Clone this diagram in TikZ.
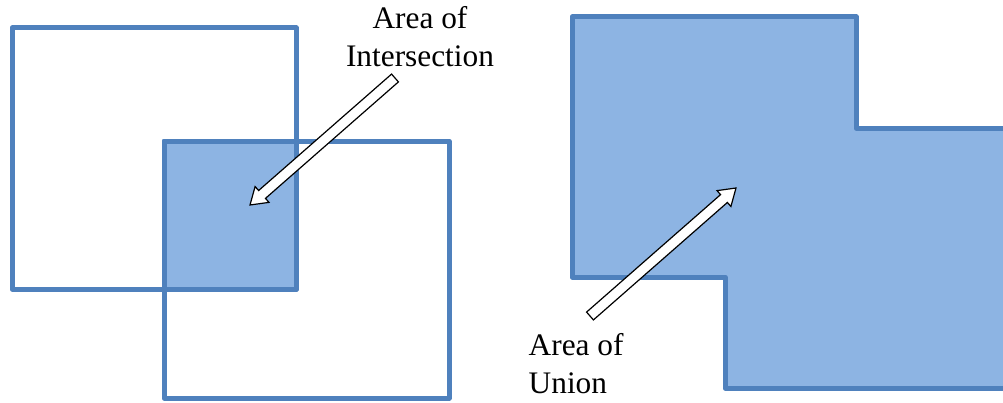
\documentclass[tikz,border=0pt]{standalone}
\usepackage{fontspec}
\setmainfont{Liberation Serif}
\newfontfamily\labelfont{Liberation Serif}
\usetikzlibrary{calc}

\definecolor{boxblue}{HTML}{4F81BD}
\definecolor{areablue}{HTML}{8DB4E3}

\newcommand{\blockarrow}[2]{%
  \draw[blockarr] let \p1=($(#2)-(#1)$), \n1={atan2(\y1,\x1)}, \n2={veclen(\x1,\y1)} in
    [shift={(#1)}, rotate=\n1]
    (0pt,-3.9pt) -- (\n2-12pt,-3.9pt) -- (\n2-12pt,-7.9pt) -- (\n2,0pt)
    -- (\n2-12pt,7.9pt) -- (\n2-12pt,3.9pt) -- (0pt,3.9pt) -- cycle;}

\begin{document}
\begin{tikzpicture}[x=0.75pt, y=-0.75pt,
      boxline/.style={draw=boxblue, line width=3.75pt, line join=round},
      blockarr/.style={draw=black, fill=white, line width=0.9pt, line join=miter},
      arealabel/.style={font=\labelfont\fontsize{23.5}{28.5}\selectfont}
    ]
    \useasboundingbox (0,0) rectangle (1003,403);

    % Intersection
    \draw[boxline] (12,28) rectangle (296,289);
    \draw[boxline] (164,141) rectangle (449,398);
    \draw[boxline, fill=areablue] (164,141) rectangle (296,289);

    \node[arealabel, align=center] (isectLabel) at (420,37) {Area of\\Intersection};
    \coordinate (isectTail) at (395,78);
    \coordinate (isectHead) at (250,205);
    \blockarrow{isectTail}{isectHead}

    % Union
    \draw[boxline, fill=areablue] (572,17) -- (856,17) -- (856,128) -- (1010,128)
      -- (1010,388) -- (725,388) -- (725,277) -- (572,277) -- cycle;

    \node[arealabel, align=left, anchor=west] (unionLabel) at (524,364) {Area of\\Union};
    \coordinate (unionTail) at (590,316);
    \coordinate (unionHead) at (736,188);
    \blockarrow{unionTail}{unionHead}
  \end{tikzpicture}
\end{document}
